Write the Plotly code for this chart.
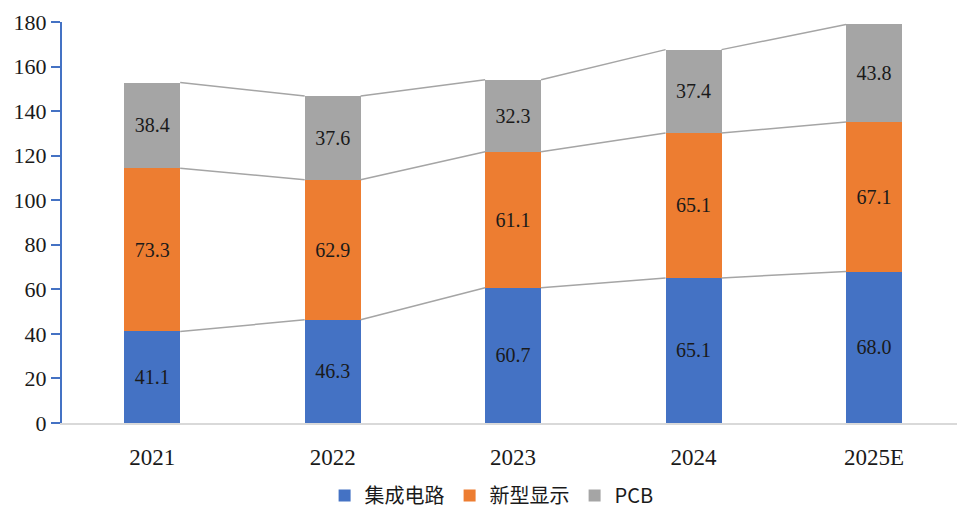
import plotly.graph_objects as go

years = ["2021", "2022", "2023", "2024", "2025E"]
ic = [41.1, 46.3, 60.7, 65.1, 68.0]
display = [73.3, 62.9, 61.1, 65.1, 67.1]
pcb = [38.4, 37.6, 32.3, 37.4, 43.8]
y_ticks = [0, 20, 40, 60, 80, 100, 120, 140, 160, 180]

names = ["集成电路", "新型显示", "PCB"]
colors = ["#4472C4", "#ED7D31", "#A5A5A5"]
series = [ic, display, pcb]

bw = 0.31
xs = list(range(len(years)))

fig = go.Figure()
for name, vals, col in zip(names, series, colors):
    fig.add_trace(go.Bar(
        x=xs, y=vals, name=name, marker=dict(color=col, line=dict(width=0)),
        width=bw, texttemplate="%{y:.1f}", textposition="inside",
        insidetextanchor="middle",
        textfont=dict(family="Liberation Serif", size=20, color="#1a1a1a"),
        constraintext="none",
    ))

# series connector lines
cum = [0.0] * len(years)
for vals in series:
    cum = [c + v for c, v in zip(cum, vals)]
    lx, ly = [], []
    for i in range(len(years) - 1):
        lx += [i + bw / 2, i + 1 - bw / 2, None]
        ly += [cum[i], cum[i + 1], None]
    fig.add_trace(go.Scatter(x=lx, y=ly, mode="lines", showlegend=False,
                             line=dict(color="#A5A5A5", width=1.5), hoverinfo="skip"))

fig.update_layout(
    barmode="stack",
    width=957, height=515,
    margin=dict(l=62, r=0, t=22, b=91),
    plot_bgcolor="white", paper_bgcolor="white",
    font=dict(family="Liberation Serif", size=20, color="#1a1a1a"),
    legend=dict(orientation="h", x=0.48, xanchor="center", y=-0.18, yanchor="middle",
                font=dict(family="Noto Sans CJK SC, Liberation Serif", size=20),
                traceorder="normal", itemwidth=30, tracegroupgap=0),
    showlegend=True,
)
fig.update_xaxes(
    range=[-0.5, 4.46], tickvals=xs, ticktext=years, automargin=False,
    showline=True, linecolor="#D9D9D9", linewidth=2, ticks="", showgrid=False,
    zeroline=False, tickfont=dict(family="Liberation Serif", size=23),
    ticklabelstandoff=12,
)
fig.update_yaxes(
    range=[0, 180], tickvals=y_ticks, showline=True, linecolor="#4472C4", linewidth=2,
    ticks="outside", tickcolor="#4472C4", ticklen=9, tickwidth=2, showgrid=False,
    zeroline=False, automargin=False, tickfont=dict(family="Liberation Serif", size=22),
)

fig.write_html(
    "out.html",
    config={"displayModeBar": False},
    post_script="document.body.style.margin='0';document.body.style.overflow='hidden';",
)
